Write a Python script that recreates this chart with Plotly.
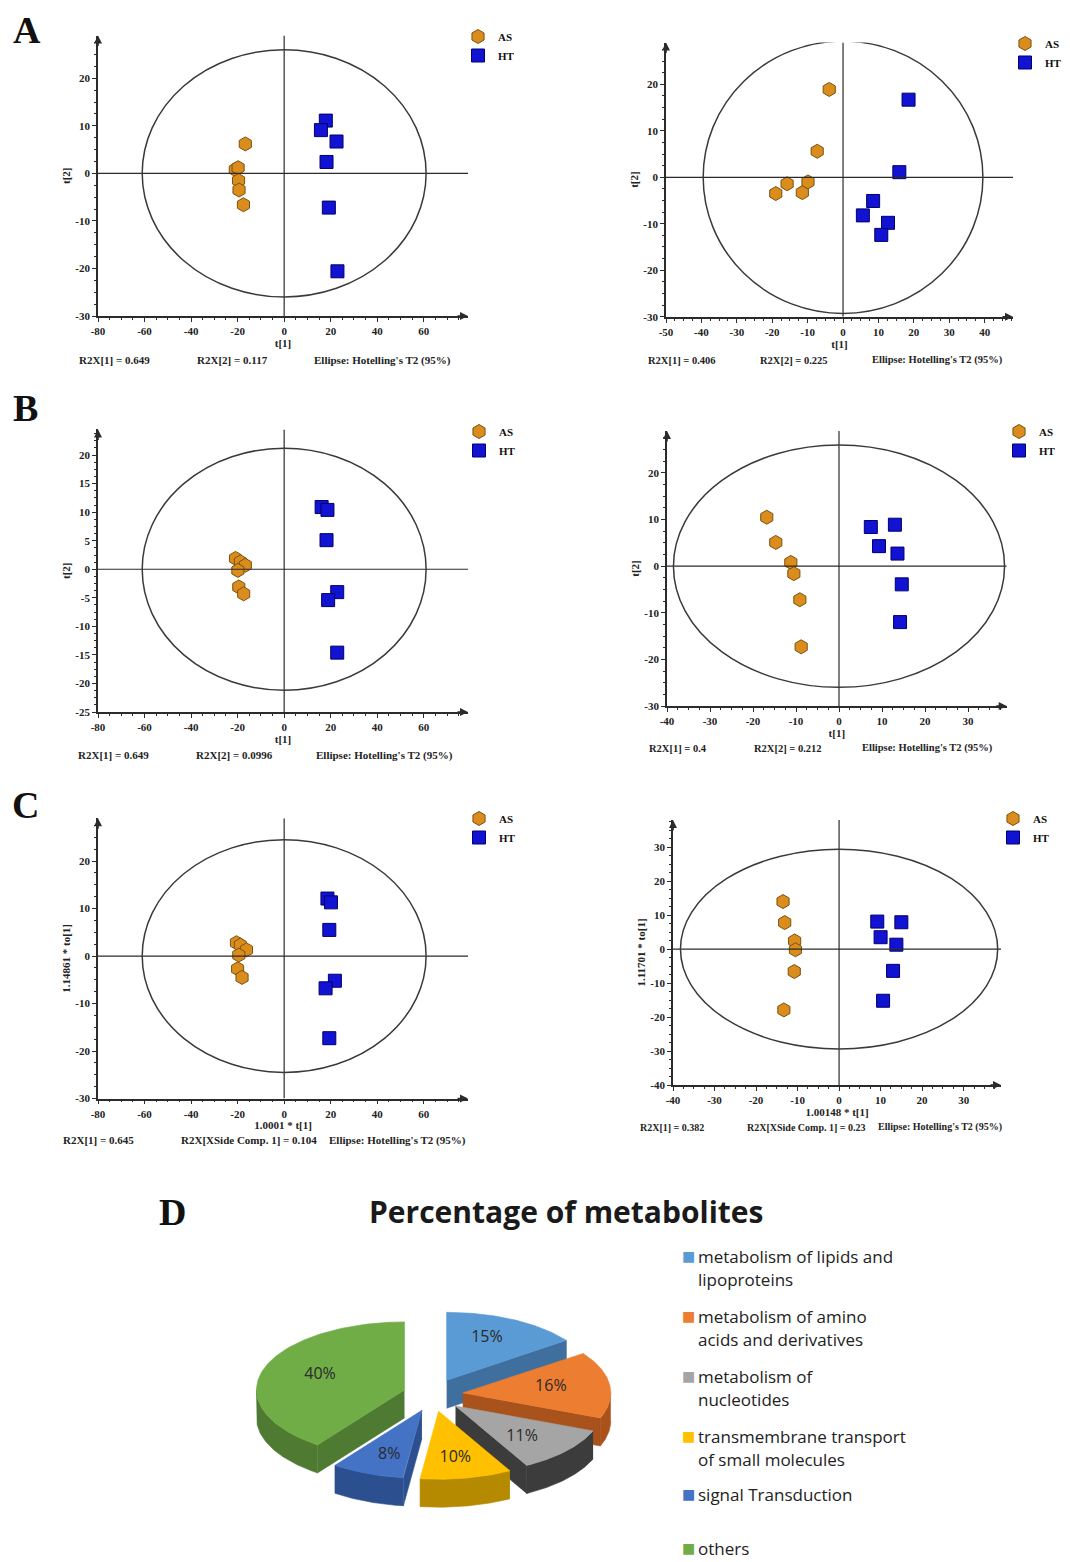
import numpy as np
import plotly.graph_objects as go

# page is 1070x1562; the browser body adds an 8px margin, so the figure is 8px smaller
# and every pixel position below is measured on the page and shifted by OFF.
PAGE_W, PAGE_H, OFF = 1070, 1562, 8
W, H = PAGE_W - OFF, PAGE_H - OFF

# ---------------- data: score plots (AS vs HT) ----------------
GROUPS = ["AS", "HT"]

A1_AS_t1 = [-16.7, -21.0, -19.8, -19.6, -19.4, -17.5]
A1_AS_t2 = [6.2, 0.8, 1.2, -1.5, -3.5, -6.6]
A1_HT_t1 = [17.9, 15.8, 22.5, 18.2, 19.2, 22.9]
A1_HT_t2 = [11.1, 9.1, 6.7, 2.4, -7.2, -20.6]

A2_AS_t1 = [-3.9, -7.3, -15.8, -19.0, -11.5, -9.9]
A2_AS_t2 = [18.9, 5.6, -1.4, -3.5, -3.3, -1.0]
A2_HT_t1 = [18.5, 15.9, 8.5, 5.6, 12.7, 10.8]
A2_HT_t2 = [16.7, 1.1, -5.1, -8.2, -9.8, -12.4]

B1_AS_t1 = [-20.9, -18.8, -16.7, -19.9, -19.5, -17.4]
B1_AS_t2 = [1.9, 1.3, 0.7, -0.2, -3.1, -4.3]
B1_HT_t1 = [16.1, 18.6, 18.2, 22.8, 18.9, 22.8]
B1_HT_t2 = [10.9, 10.4, 5.1, -4.0, -5.4, -14.6]

B2_AS_t1 = [-16.8, -14.7, -11.2, -10.5, -9.1, -8.8]
B2_AS_t2 = [10.5, 5.1, 0.8, -1.6, -7.2, -17.3]
B2_HT_t1 = [7.4, 13.0, 9.3, 13.6, 14.6, 14.2]
B2_HT_t2 = [8.4, 8.9, 4.3, 2.7, -3.9, -12.0]

C1_AS_t1 = [-20.5, -18.8, -16.2, -19.5, -20.0, -18.1]
C1_AS_to = [2.8, 2.3, 1.3, 0.2, -2.7, -4.5]
C1_HT_t1 = [18.6, 20.1, 19.4, 21.8, 17.8, 19.4]
C1_HT_to = [12.1, 11.3, 5.5, -5.2, -6.8, -17.3]

C2_AS_t1 = [-13.5, -13.1, -10.7, -10.5, -10.8, -13.3]
C2_AS_to = [14.0, 7.8, 2.4, -0.2, -6.6, -17.9]
C2_HT_t1 = [9.2, 15.0, 10.0, 13.8, 13.0, 10.6]
C2_HT_to = [8.1, 7.9, 3.5, 1.3, -6.4, -15.2]

SERIES = [
    ((A1_AS_t1, A1_AS_t2), (A1_HT_t1, A1_HT_t2)),
    ((A2_AS_t1, A2_AS_t2), (A2_HT_t1, A2_HT_t2)),
    ((B1_AS_t1, B1_AS_t2), (B1_HT_t1, B1_HT_t2)),
    ((B2_AS_t1, B2_AS_t2), (B2_HT_t1, B2_HT_t2)),
    ((C1_AS_t1, C1_AS_to), (C1_HT_t1, C1_HT_to)),
    ((C2_AS_t1, C2_AS_to), (C2_HT_t1, C2_HT_to)),
]

# Hotelling's T2 (95%) ellipse semi-axes
ELL_A = [61, 39.5, 61, 38.5, 61, 38.2]
ELL_B = [26, 29.3, 21.2, 26, 24.5, 29.4]

X_TITLES = ["t[1]", "t[1]", "t[1]", "t[1]", "1.0001 * t[1]", "1.00148 * t[1]"]
Y_TITLES = ["t[2]", "t[2]", "t[2]", "t[2]", "1.14861 * to[1]", "1.11701 * to[1]"]
R2X_1 = ["R2X[1] = 0.649", "R2X[1] = 0.406", "R2X[1] = 0.649",
         "R2X[1] = 0.4", "R2X[1] = 0.645", "R2X[1] = 0.382"]
R2X_2 = ["R2X[2] = 0.117", "R2X[2] = 0.225", "R2X[2] = 0.0996",
         "R2X[2] = 0.212", "R2X[XSide Comp. 1] = 0.104", "R2X[XSide Comp. 1] = 0.23"]
ELLIPSE_NOTE = "Ellipse: Hotelling's T2 (95%)"
PANEL_LETTERS = ["A", "B", "C", "D"]

# ---------------- data: pie chart ----------------
PIE_TITLE = "Percentage of metabolites"
PIE_LABELS = ["metabolism of lipids and<br>lipoproteins",
              "metabolism of amino<br>acids and derivatives",
              "metabolism of<br>nucleotides",
              "transmembrane transport<br>of small molecules",
              "signal Transduction",
              "others"]
PIE_VALUES = [15, 16, 11, 10, 8, 40]
PIE_TOP = ["#5B9BD5", "#ED7D31", "#A5A5A5", "#FFC000", "#4472C4", "#70AD47"]
PIE_SIDE = ["#3F6F9E", "#A9521C", "#3C3C3C", "#B58A00", "#2C4F8F", "#4E7A31"]

# ---------------- layout (page pixel boxes) ----------------
PANELS = [
    dict(x_px=(98, 468), y_px=(316, 35.5), xr=(-80, 79), yr=(-30, 29), xdt=20, ydt=10,
         foot_y=360, foot_x=(114, 232, 382), foot_fs=11, leg=(458, 22)),
    dict(x_px=(666, 1013), y_px=(316.7, 42.5), xr=(-50, 48), yr=(-30, 29), xdt=10, ydt=10,
         foot_y=360, foot_x=(682, 794, 937), foot_fs=10.5, leg=(1005, 29)),
    dict(x_px=(98, 468), y_px=(712, 429.4), xr=(-80, 79), yr=(-25, 24.5), xdt=20, ydt=5,
         foot_y=755, foot_x=(113, 234, 384), foot_fs=11, leg=(459, 417)),
    dict(x_px=(667, 1006.7), y_px=(706, 431), xr=(-40, 39), yr=(-30, 29), xdt=10, ydt=10,
         foot_y=748, foot_x=(678, 788, 927), foot_fs=10.5, leg=(999, 417)),
    dict(x_px=(98, 468), y_px=(1098.5, 818.3), xr=(-80, 79), yr=(-30, 29), xdt=20, ydt=10,
         foot_y=1140, foot_x=(98, 249, 397), foot_fs=11, leg=(459, 804)),
    dict(x_px=(673, 1001), y_px=(1085, 820), xr=(-40, 39), yr=(-40, 38), xdt=10, ydt=10,
         foot_y=1127, foot_x=(672, 806, 940), foot_fs=10, leg=(993, 804)),
]

SERIF = "Liberation Serif"
AXC = "#2b2b2b"


def py(p):
    return 1 - (p - OFF) / H


def px(p):
    return (p - OFF) / W


fig = go.Figure()
shapes, annos = [], []
layout_axes = {}

AS_STYLE = dict(symbol="hexagon", size=14, color="#DA8C1C", line=dict(color="#7A5210", width=1))
HT_STYLE = dict(symbol="square", size=13, color="#1212D2", line=dict(color="#00006A", width=1))

for i, p in enumerate(PANELS):
    k = i + 1
    xa = "x" if k == 1 else f"x{k}"
    ya = "y" if k == 1 else f"y{k}"
    xkey = "xaxis" if k == 1 else f"xaxis{k}"
    ykey = "yaxis" if k == 1 else f"yaxis{k}"
    lg = "legend" if k == 1 else f"legend{k}"

    (as_x, as_y), (ht_x, ht_y) = SERIES[i]
    fig.add_trace(go.Scatter(x=as_x, y=as_y, mode="markers", name=GROUPS[0], marker=AS_STYLE,
                             xaxis=xa, yaxis=ya, legend=lg))
    fig.add_trace(go.Scatter(x=ht_x, y=ht_y, mode="markers", name=GROUPS[1], marker=HT_STYLE,
                             xaxis=xa, yaxis=ya, legend=lg))

    xt = np.arange(p["xr"][0], p["xr"][1] + 1e-9, p["xdt"])
    yt = np.arange(p["yr"][0], p["yr"][1] + 1e-9, p["ydt"])
    tickfont = dict(family=SERIF, size=11, color="#222", weight="bold")
    titlefont = dict(family=SERIF, size=11, color="#222", weight="bold")
    common = dict(showline=True, linecolor=AXC, linewidth=1.6, ticks="outside", ticklen=4,
                  tickwidth=1, tickcolor=AXC, showgrid=False, zeroline=False, tickfont=tickfont,
                  fixedrange=True)
    layout_axes[xkey] = dict(common, domain=[px(p["x_px"][0]), px(p["x_px"][1])],
                             range=list(p["xr"]), tickmode="array", tickvals=list(xt),
                             ticktext=[f"{v:g}" for v in xt], anchor=ya,
                             minor=dict(ticks="outside", ticklen=2, dtick=p["xdt"] / 4,
                                        tick0=0, tickcolor=AXC),
                             title=dict(text=X_TITLES[i], font=titlefont, standoff=2))
    layout_axes[ykey] = dict(common, domain=[py(p["y_px"][0]), py(p["y_px"][1])],
                             range=list(p["yr"]), tickmode="array", tickvals=list(yt),
                             ticktext=[f"{v:g}" for v in yt], anchor=xa,
                             minor=dict(ticks="outside", ticklen=2, dtick=p["ydt"] / 4,
                                        tick0=0, tickcolor=AXC),
                             title=dict(text=Y_TITLES[i], font=titlefont, standoff=2))

    # zero lines
    shapes.append(dict(type="line", xref=xa, yref=ya, x0=0, x1=0, y0=p["yr"][0], y1=p["yr"][1],
                       line=dict(color=AXC, width=1.2)))
    shapes.append(dict(type="line", xref=xa, yref=ya, x0=p["xr"][0], x1=p["xr"][1], y0=0, y1=0,
                       line=dict(color=AXC, width=1.2)))
    # Hotelling ellipse
    shapes.append(dict(type="circle", xref=xa, yref=ya, x0=-ELL_A[i], x1=ELL_A[i],
                       y0=-ELL_B[i], y1=ELL_B[i], line=dict(color="#3a3a3a", width=1.5)))
    # axis arrows
    annos.append(dict(xref=xa, yref=ya, x=p["xr"][1], y=p["yr"][0], ax=-12, ay=0, text="",
                      showarrow=True, arrowhead=2, arrowsize=1, arrowwidth=1.6, arrowcolor=AXC))
    annos.append(dict(xref=xa, yref=ya, x=p["xr"][0], y=p["yr"][1], ax=0, ay=12, text="",
                      showarrow=True, arrowhead=2, arrowsize=1, arrowwidth=1.6, arrowcolor=AXC))
    # footers
    for txt, fx in zip([R2X_1[i], R2X_2[i], ELLIPSE_NOTE], p["foot_x"]):
        annos.append(dict(xref="paper", yref="paper", x=px(fx), y=py(p["foot_y"]), text=txt,
                          showarrow=False, xanchor="center", yanchor="middle",
                          font=dict(family=SERIF, size=p["foot_fs"], color="#222", weight="bold")))
    # legend
    layout_axes[lg] = dict(x=px(p["leg"][0]), y=py(p["leg"][1]), xanchor="left", yanchor="top",
                           bgcolor="rgba(0,0,0,0)", borderwidth=0, tracegroupgap=0,
                           itemwidth=30, font=dict(family=SERIF, size=11, color="#111", weight="bold"))

# panel letters
for letter, (lx, ly) in zip(PANEL_LETTERS, [(27, 30), (25, 408), (25, 805), (172, 1212)]):
    annos.append(dict(xref="paper", yref="paper", x=px(lx), y=py(ly), text=letter, showarrow=False,
                      xanchor="center", yanchor="middle",
                      font=dict(family=SERIF, size=38, color="#111", weight="bold")))

# ---------------- panel D: exploded 3-D pie ----------------
CX, CY, RX, RY, DEPTH, EXX, EXY = 433, 1395, 148, 68, 28, 30, 16.5
PIE_X = ("x7", "y7")
layout_axes["xaxis7"] = dict(domain=[px(200), px(660)], range=[200, 660], visible=False,
                             anchor="y7", fixedrange=True)
layout_axes["yaxis7"] = dict(domain=[py(1540), py(1280)], range=[1540, 1280], visible=False,
                             anchor="x7", fixedrange=True)


def rim(theta, ox, oy, dz=0.0):
    th = np.radians(theta)
    return ox + RX * np.sin(th), oy - RY * np.cos(th) + dz


total = float(sum(PIE_VALUES))
cum = np.concatenate([[0], np.cumsum(PIE_VALUES)]) / total * 360.0
slices = []
for i, v in enumerate(PIE_VALUES):
    t1, t2 = cum[i], cum[i + 1]
    mid = 0.5 * (t1 + t2)
    ox = CX + EXX * np.sin(np.radians(mid))
    oy = CY - EXY * np.cos(np.radians(mid))
    polys = []
    # start cut face
    if np.sin(np.radians(t1)) < -1e-6:
        ex_, ey_ = rim(t1, ox, oy)
        polys.append(([ox, ex_, ex_, ox], [oy, ey_, ey_ + DEPTH, oy + DEPTH], PIE_SIDE[i]))
    # end cut face
    if np.sin(np.radians(t2)) > 1e-6:
        ex_, ey_ = rim(t2, ox, oy)
        polys.append(([ox, ex_, ex_, ox], [oy, ey_, ey_ + DEPTH, oy + DEPTH], PIE_SIDE[i]))
    # outer wall (front half only)
    a, b = max(t1, 90), min(t2, 270)
    if a < b:
        th = np.linspace(a, b, 60)
        xt_, yt_ = rim(th, ox, oy)
        xb_, yb_ = rim(th[::-1], ox, oy, DEPTH)
        polys.append((list(xt_) + list(xb_), list(yt_) + list(yb_), PIE_SIDE[i]))
    # top face
    th = np.linspace(t1, t2, 120)
    xt_, yt_ = rim(th, ox, oy)
    polys.append(([ox] + list(xt_) + [ox], [oy] + list(yt_) + [oy], PIE_TOP[i]))
    lx, ly = ox + 0.6 * RX * np.sin(np.radians(mid)), oy - 0.7 * RY * np.cos(np.radians(mid))
    slices.append((oy - 0.5 * RY * np.cos(np.radians(mid)), polys, lx, ly, v))

for _, polys, lx, ly, v in sorted(slices, key=lambda s: s[0]):
    for xs, ys, col in polys:
        fig.add_trace(go.Scatter(x=xs, y=ys, mode="lines", fill="toself", fillcolor=col,
                                 line=dict(color=col, width=0.6), hoverinfo="skip",
                                 showlegend=False, xaxis=PIE_X[0], yaxis=PIE_X[1]))

fig.add_trace(go.Scatter(x=[s[2] for s in slices], y=[s[3] for s in slices], mode="text",
                         text=[f"{s[4]}%" for s in slices],
                         textfont=dict(family="Open Sans", size=16, color="#2a2a2a"),
                         hoverinfo="skip", showlegend=False, xaxis=PIE_X[0], yaxis=PIE_X[1]))

# pie title
annos.append(dict(xref="paper", yref="paper", x=px(566), y=py(1211), text=PIE_TITLE,
                  showarrow=False, xanchor="center", yanchor="middle",
                  font=dict(family="Open Sans", size=30, color="#1a1a1a", weight="bold")))

# pie legend (manual, right side)
LEG_Y0 = [1256, 1316, 1376, 1436, 1494, 1548]
for lab, col, y0 in zip(PIE_LABELS, PIE_TOP, LEG_Y0):
    annos.append(dict(xref="paper", yref="paper", x=px(688), y=py(y0), text="■", showarrow=False,
                      xanchor="center", yanchor="middle",
                      font=dict(family="DejaVu Sans", size=14, color=col)))
    for j, line in enumerate(lab.split("<br>")):
        annos.append(dict(xref="paper", yref="paper", x=px(696), y=py(y0 + 23.5 * j), text=line,
                          showarrow=False, xanchor="left", yanchor="middle",
                          font=dict(family="Open Sans", size=17, color="#222")))

fig.update_layout(width=W, height=H, margin=dict(l=0, r=0, t=0, b=0),
                  paper_bgcolor="white", plot_bgcolor="white", template="none",
                  shapes=shapes, annotations=annos, **layout_axes)

fig.write_html("out.html")
